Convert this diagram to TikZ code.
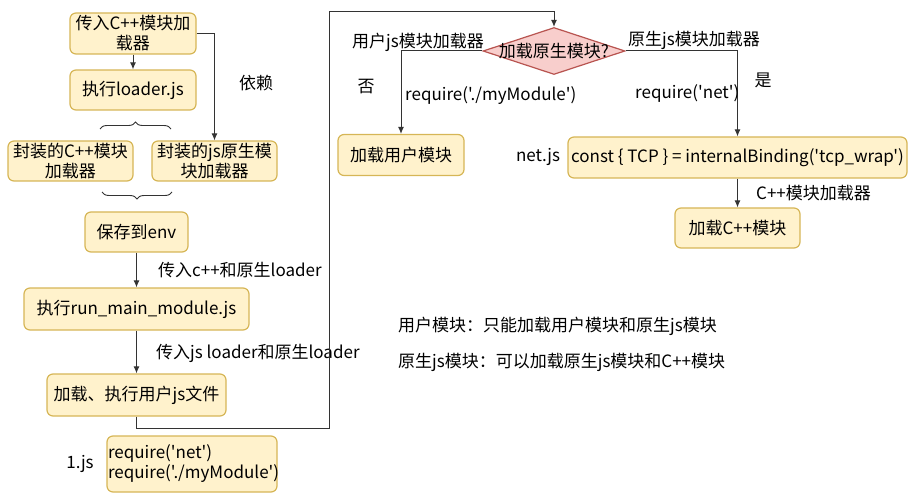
\documentclass[tikz,border=0pt]{standalone}
\usepackage{fontspec}
\setmainfont{Noto Sans CJK SC}[Ligatures=TeXOff]
\usetikzlibrary{arrows.meta,shapes.geometric,decorations.pathreplacing}

\definecolor{boxfill}{HTML}{FFF2CC}
\definecolor{boxline}{HTML}{D6B656}
\definecolor{askfill}{HTML}{F8CECC}
\definecolor{askline}{HTML}{B85450}
\definecolor{ink}{HTML}{333333}

\tikzset{
  stepbox/.style={draw=boxline, fill=boxfill, rounded corners=6pt, line width=1.2pt,
    align=center, inner sep=1pt},
  askbox/.style={diamond, aspect=3, draw=askline, fill=askfill, line width=1.2pt,
    inner sep=0pt, minimum width=142pt, minimum height=47pt},
  flow/.style={->, draw=ink, line width=1pt},
  note/.style={inner sep=1pt},
  curly/.style={draw=ink, line width=0.9pt, decorate, decoration={brace, amplitude=7pt}}
}

\begin{document}
\begin{tikzpicture}[>={Latex[length=7pt,width=6pt]}, x=1pt, y=-1pt,
  font=\fontsize{17}{20}\selectfont]
\useasboundingbox (0,0) rectangle (914,500);

% linke Spalte: Start von Node
\node[stepbox, minimum width=126pt, minimum height=41pt] (pass)    at (133,33.5) {传入C++模块加\\载器};
\node[stepbox, minimum width=126pt, minimum height=40pt] (loader)  at (133,90)   {执行loader.js};
\node[stepbox, minimum width=125pt, minimum height=40pt] (cwrap)   at (70.5,161) {封装的C++模块\\加载器};
\node[stepbox, minimum width=125pt, minimum height=40pt] (jswrap)  at (214.5,161){封装的js原生模\\块加载器};
\node[stepbox, minimum width=103pt, minimum height=40pt] (env)     at (136.5,232){保存到env};
\node[stepbox, minimum width=225pt, minimum height=42pt] (runmain) at (136.5,309){执行run\_main\_module.js};
\node[stepbox, minimum width=179pt, minimum height=42pt] (userjs)  at (136.5,395){加载、执行用户js文件};
\node[stepbox, minimum width=170pt, minimum height=56pt, text width=168pt, align=left] (onejs) at (192,464)
  {require('net')\\require('./myModule')};

\draw[flow] (pass) -- (loader);
\draw[flow] (pass.east) -| (jswrap.north);
\draw[flow] (env) -- (runmain);
\draw[flow] (runmain) -- (userjs);

\draw[curly] (100,129) -- (171,129);
\draw[curly] (172,192) -- (102,192);

\node (dep)      at (256,83)  {依赖};
\node[note, anchor=west] (passcpp) at (157,270) {传入c++和原生loader};
\node[note, anchor=west] (passjs)  at (155,353) {传入js loader和原生loader};
\node (onelbl)   at (80,464)  {1.js};


% rechte Seite: require
\node[askbox, label=center:{加载原生模块?}] (native) at (554,51) {};
\node[stepbox, minimum width=126pt, minimum height=41pt] (usermod) at (401,155)   {加载用户模块};
\node[stepbox, minimum width=339pt, minimum height=41pt] (tcp)     at (737.5,157.5){const \{ TCP \} = internalBinding('tcp\_wrap')};
\node[stepbox, minimum width=125pt, minimum height=40pt] (cppmod)  at (737.5,228) {加载C++模块};

\coordinate (turnlow) at (329,428);
\coordinate (turntop) at (329,12);

\draw[flow] (userjs.south) |- (turnlow) -- (turntop) -| (native.north);
\draw[flow] (native.west) -| (usermod.north);
\draw[flow] (native.east) -| (tcp.north);
\draw[flow] (tcp) -- (cppmod);

\node (userldr)  at (418,42)  {用户js模块加载器};
\node (no)       at (366,87)  {否};
\node[note, anchor=west] (reqmy)     at (404,96)  {require('./myModule')};
\node[note, anchor=west] (nativeldr) at (627,40)  {原生js模块加载器};
\node (yes)      at (763,80)  {是};
\node[note, anchor=west] (reqnet)    at (634,93)  {require('net')};
\node (netlbl)   at (538,157) {net.js};
\node[note, anchor=west] (cppldr)    at (755,193) {C++模块加载器};


% Erklaerung
\node[note, anchor=west] (note1) at (397,326) {用户模块：只能加载用户模块和原生js模块};
\node[note, anchor=west] (note2) at (397,362) {原生js模块：可以加载原生js模块和C++模块};

\end{tikzpicture}
\end{document}
